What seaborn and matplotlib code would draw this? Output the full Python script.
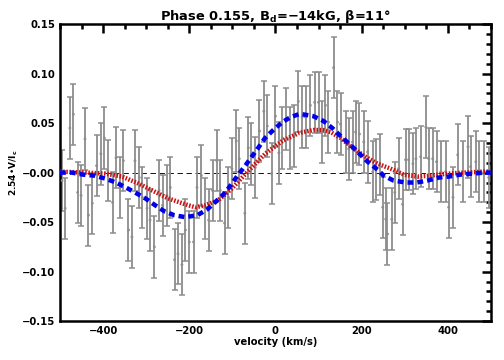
import numpy as np
import pandas as pd
import matplotlib
matplotlib.use("Agg")
import matplotlib.pyplot as plt
import seaborn as sns
from matplotlib.ticker import MultipleLocator

# ---- observed data (velocity km/s, 2.54*V/Ic, error) ----
obs_v = [-495, -488, -477, -469, -459, -451, -442, -434, -425, -415, -405, -397,
         -389, -378, -370, -360, -353, -341, -333, -326, -316, -309, -298, -291,
         -281, -270, -262, -252, -244, -234, -226, -217, -209, -200, -190, -182,
         -172, -164, -155, -146, -136, -128, -118, -109, -101, -91, -84, -71,
         -63, -56, -47, -37, -27, -19, -9, 0, 8, 16, 25, 33, 43, 53, 62, 70,
         81, 91, 100, 109, 116, 123, 135, 144, 151, 163, 170, 179, 186, 195,
         205, 214, 226, 233, 242, 249, 256, 260, 270, 277, 286, 295, 302, 309,
         319, 326, 337, 349, 356, 365, 374, 384, 395, 402, 412, 423, 435, 447,
         453, 465, 472, 484, 495]
obs_y = [-0.008, -0.036, 0.045, 0.059, -0.020, -0.023, 0.034, -0.043, -0.031,
         0.007, 0.019, 0.035, 0.002, -0.030, 0.015, -0.015, 0.012, -0.058,
         -0.065, 0.012, -0.005, -0.025, -0.036, -0.048, -0.075, -0.018, -0.033,
         -0.023, -0.015, -0.088, -0.082, -0.093, -0.058, -0.070, -0.070, -0.015,
         -0.003, -0.036, -0.048, -0.018, 0.012, -0.018, -0.051, -0.025, 0.004,
         0.032, 0.014, -0.041, 0.025, 0.019, 0.005, 0.042, 0.062, 0.047, -0.001,
         0.057, 0.020, 0.035, 0.054, 0.035, 0.037, 0.072, 0.056, 0.056, 0.068,
         0.071, 0.071, 0.041, 0.068, 0.051, 0.106, 0.051, 0.049, 0.031, 0.024,
         0.031, 0.041, 0.039, 0.031, 0.021, 0.001, 0.003, 0.008, -0.035, -0.047,
         -0.062, -0.047, -0.020, 0.004, -0.032, 0.013, 0.013, 0.009, 0.014,
         0.016, 0.046, 0.014, 0.014, 0.011, 0.001, 0.001, -0.035, -0.025, 0.018,
         0.001, 0.026, 0.006, 0.011, 0.001, 0.001, -0.005]
obs_err = [0.031] * len(obs_v)

# ---- model curves ----
blue_v = [-500, -472, -447, -421, -395, -370, -347, -326, -302, -279, -258,
          -235, -209, -181, -158, -135, -116, -101, -86, -70, -55, -40, -24,
          -5, 16, 35, 54, 62, 88, 112, 132, 151, 174, 195, 214, 237, 251, 274,
          302, 328, 353, 379, 402, 430, 458, 484, 500]
blue_y = [0.000, 0.000, -0.002, -0.003, -0.006, -0.010, -0.015, -0.020, -0.026,
          -0.033, -0.039, -0.043, -0.045, -0.043, -0.037, -0.028, -0.020,
          -0.011, -0.002, 0.007, 0.016, 0.025, 0.035, 0.043, 0.051, 0.056,
          0.059, 0.059, 0.057, 0.052, 0.045, 0.037, 0.028, 0.019, 0.011, 0.003,
          -0.003, -0.008, -0.010, -0.010, -0.008, -0.005, -0.004, -0.002,
          -0.001, 0.000, 0.000]
red_v = [-500, -439, -395, -356, -318, -286, -249, -209, -186, -163, -133, -101,
         -62, -24, 16, 54, 88, 110, 128, 151, 174, 205, 237, 267, 298, 330, 360,
         400, 440, 483, 500]
red_y = [0.001, 0.000, -0.001, -0.004, -0.011, -0.018, -0.026, -0.032, -0.035,
         -0.033, -0.028, -0.016, 0.002, 0.019, 0.032, 0.040, 0.043, 0.043,
         0.041, 0.035, 0.027, 0.017, 0.009, 0.004, -0.002, -0.004, -0.003,
         -0.001, 0.000, 0.001, 0.001]

title = r"Phase 0.155, B$_d$=$-$14kG, $\beta$=11°"
xlabel = "velocity (km/s)"
ylabel = r"2.54•V/I$_c$"

sns.set_style("white")
plt.rcParams['font.family'] = ['DejaVu Sans']
plt.rcParams['font.weight'] = 'bold'
plt.rcParams['mathtext.default'] = 'bf'
plt.rcParams['text.color'] = 'black'
plt.rcParams['axes.labelcolor'] = 'black'
plt.rcParams['xtick.color'] = 'black'
plt.rcParams['ytick.color'] = 'black'

fig = plt.figure(figsize=(7, 5), dpi=72)
ax = fig.add_axes([0.119, 0.108, 0.855, 0.825])

obs = pd.DataFrame({"v": obs_v, "y": obs_y, "e": obs_err})
ax.errorbar(obs["v"], obs["y"], yerr=obs["e"], fmt='none', ecolor='#8c8c8c',
            elinewidth=1.8, capsize=3, capthick=1.5, zorder=2)
sns.scatterplot(data=obs, x="v", y="y", ax=ax, color='#8c8c8c', s=8,
                edgecolor='none', zorder=3, legend=False)

ax.axhline(0, color='black', lw=0.9, ls=(0, (6, 4)), zorder=1)

blue = pd.DataFrame({"v": blue_v, "y": blue_y})
red = pd.DataFrame({"v": red_v, "y": red_y})
sns.lineplot(data=red, x="v", y="y", ax=ax, color='#cc1111', lw=4.5,
             ls=(0, (0.35, 0.35)), zorder=4)
sns.lineplot(data=blue, x="v", y="y", ax=ax, color='#0000ee', lw=4.5,
             ls=(0, (1.3, 0.9)), zorder=5)

ax.set_xlim(-500, 500)
ax.set_ylim(-0.15, 0.15)
ax.xaxis.set_major_locator(MultipleLocator(200))
ax.xaxis.set_minor_locator(MultipleLocator(50))
ax.yaxis.set_major_locator(MultipleLocator(0.05))
ax.yaxis.set_minor_locator(MultipleLocator(0.01))
ax.yaxis.set_major_formatter(matplotlib.ticker.FuncFormatter(
    lambda v, p: f"{v:.2f}".replace("-", "−") if abs(v) > 1e-9 else "−0.00"))
ax.xaxis.set_major_formatter(matplotlib.ticker.FuncFormatter(
    lambda v, p: f"{int(round(v))}".replace("-", "−")))
ax.tick_params(which='major', direction='in', length=9, width=2.5,
               top=True, right=True, labelsize=10, pad=5, colors='black')
ax.tick_params(which='minor', direction='in', length=5, width=2.5,
               top=True, right=True, colors='black')
for s in ax.spines.values():
    s.set_linewidth(2.5)
    s.set_color('black')
for lab in ax.get_xticklabels() + ax.get_yticklabels():
    lab.set_fontweight('bold')

ax.set_title(title, fontsize=13, fontweight='bold', pad=4, color='black')
ax.set_xlabel(xlabel, fontsize=10, fontweight='bold', labelpad=1, color='black')
ax.set_ylabel(ylabel, fontsize=9, fontweight='bold', labelpad=2, color='black')

fig.savefig("out.png", dpi=72)
